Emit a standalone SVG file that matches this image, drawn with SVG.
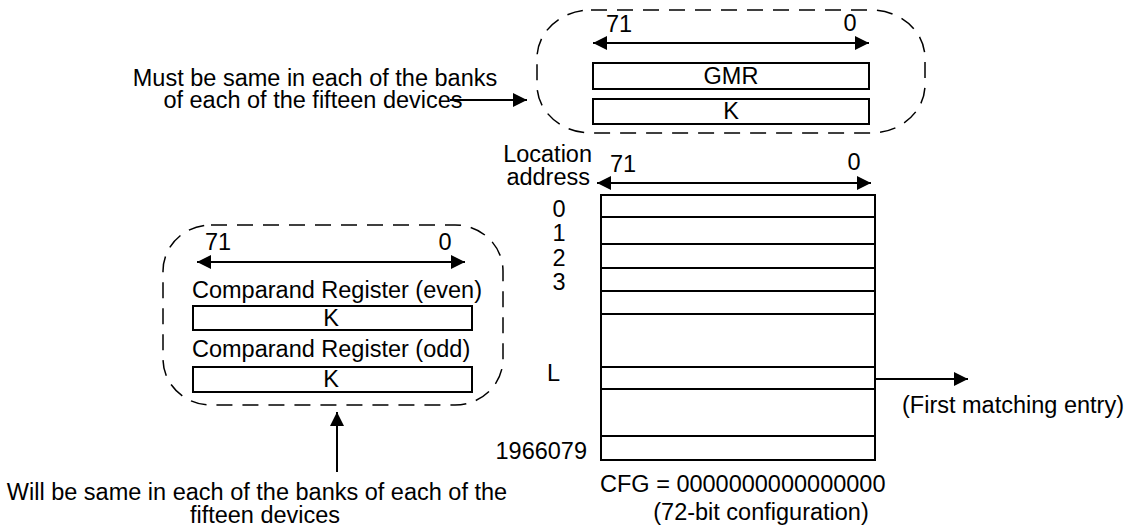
<svg xmlns="http://www.w3.org/2000/svg" width="1130" height="527" viewBox="0 0 1130 527">
<style>
text{font-family:"Liberation Sans",Arial,sans-serif;font-size:23.5px;fill:#000}
.m{text-anchor:middle}
.e{text-anchor:end}
.box{fill:#fff;stroke:#000;stroke-width:2}
.ln{stroke:#000;stroke-width:2;fill:none}
.dash{fill:none;stroke:#000;stroke-width:1.5;stroke-dasharray:16 10}
.ar{stroke:#000;stroke-width:2;fill:none;marker-end:url(#ah)}
.ar2{stroke:#000;stroke-width:2;fill:none;marker-start:url(#ahs);marker-end:url(#ah)}
</style>
<defs>
<marker id="ah" markerUnits="userSpaceOnUse" markerWidth="16" markerHeight="14" refX="14" refY="7" orient="auto">
<path d="M0,0 L14,7 L0,14 Z" fill="#000"/>
</marker>
<marker id="ahs" markerUnits="userSpaceOnUse" markerWidth="16" markerHeight="14" refX="0" refY="7" orient="auto">
<path d="M14,0 L0,7 L14,14 Z" fill="#000"/>
</marker>
</defs>

<g id="global-registers">
<rect class="dash" x="537" y="10" width="388" height="123" rx="54" ry="48"/>
<text x="606" y="32">71</text>
<text class="m" x="850" y="31">0</text>
<line class="ar2" x1="593" y1="43" x2="869" y2="43"/>
<rect class="box" x="593" y="63" width="276" height="26"/>
<text class="m" x="731" y="84">GMR</text>
<rect class="box" x="593" y="99" width="276" height="25"/>
<text class="m" x="731" y="119">K</text>
</g>

<g id="note-top">
<text class="m" x="315" y="86">Must be same in each of the banks</text>
<text class="m" x="313" y="108">of each of the fifteen devices</text>
</g>

<g id="comparand-registers">
<rect class="dash" x="163" y="225" width="340" height="180" rx="48" ry="46"/>
<text x="205" y="250">71</text>
<text class="m" x="445" y="250">0</text>
<line class="ar2" x1="197" y1="262" x2="465" y2="262"/>
<text x="192" y="298">Comparand Register (even)</text>
<rect class="box" x="193" y="306" width="279" height="24"/>
<text class="m" x="331" y="326">K</text>
<text x="192" y="357">Comparand Register (odd)</text>
<rect class="box" x="193" y="367" width="279" height="25"/>
<text class="m" x="331" y="387">K</text>
</g>

<g id="note-bottom">
<text class="m" x="257" y="500">Will be same in each of the banks of each of the</text>
<text class="m" x="265" y="523">fifteen devices</text>
</g>

<g id="memory-array">
<text class="e" x="592" y="162">Location</text>
<text class="e" x="590" y="185">address</text>
<text x="610" y="172">71</text>
<text class="m" x="854" y="170">0</text>
<line class="ar2" x1="597" y1="183" x2="871" y2="183"/>
<rect class="box" x="601" y="195" width="274" height="265"/>
<line class="ln" x1="601" y1="217" x2="875" y2="217"/>
<line class="ln" x1="601" y1="244" x2="875" y2="244"/>
<line class="ln" x1="601" y1="268" x2="875" y2="268"/>
<line class="ln" x1="601" y1="291" x2="875" y2="291"/>
<line class="ln" x1="601" y1="314" x2="875" y2="314"/>
<line class="ln" x1="601" y1="367" x2="875" y2="367"/>
<line class="ln" x1="601" y1="389" x2="875" y2="389"/>
<line class="ln" x1="601" y1="436" x2="875" y2="436"/>
<text class="m" x="559" y="217">0</text>
<text class="m" x="559" y="241">1</text>
<text class="m" x="559" y="266">2</text>
<text class="m" x="559" y="290">3</text>
<text x="547" y="381">L</text>
<text class="e" x="587" y="459">1966079</text>
<text x="600" y="492">CFG = 0000000000000000</text>
<text class="m" x="761" y="520">(72-bit configuration)</text>
</g>

<g id="first-match">
<text x="902" y="413">(First matching entry)</text>
</g>

<g id="connectors">
<line class="ar" x1="450" y1="100" x2="527" y2="100"/>
<line class="ar" x1="337" y1="472" x2="337" y2="412"/>
<line class="ar" x1="875" y1="379" x2="968" y2="379"/>
</g>
</svg>
